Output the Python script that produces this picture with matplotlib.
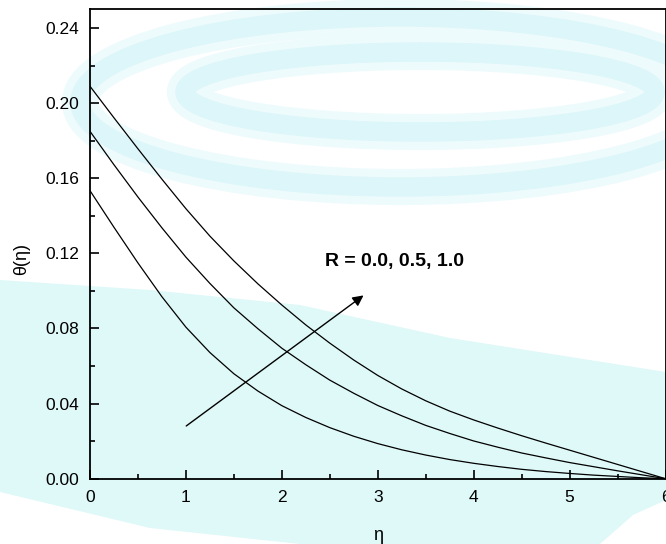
import matplotlib
matplotlib.use("Agg")
import matplotlib.pyplot as plt
from matplotlib.patches import Ellipse, Polygon

plt.rcParams["font.family"] = ["Liberation Sans", "DejaVu Sans"]

# values
eta = [0.0, 0.25, 0.5, 0.75, 1.0, 1.25, 1.5, 1.75, 2.0, 2.25, 2.5, 2.75, 3.0,
       3.25, 3.5, 3.75, 4.0, 4.25, 4.5, 4.75, 5.0, 5.25, 5.5, 5.75, 6.0]
theta_r00 = [0.1534, 0.1339, 0.1149, 0.0969, 0.0807, 0.0672, 0.0559, 0.0467,
             0.0389, 0.0326, 0.0272, 0.0226, 0.0187, 0.0154, 0.0126, 0.0102,
             0.0082, 0.0065, 0.0050, 0.0038, 0.0028, 0.0019, 0.0012, 0.0005, 0.0]
theta_r05 = [0.185, 0.1672, 0.1500, 0.1336, 0.1180, 0.1040, 0.0910, 0.0799,
             0.0695, 0.0607, 0.0525, 0.0455, 0.0390, 0.0335, 0.0284, 0.0241,
             0.0201, 0.0168, 0.0137, 0.0111, 0.0086, 0.0064, 0.0042, 0.0021, 0.0]
theta_r10 = [0.209, 0.1922, 0.1757, 0.1595, 0.1438, 0.1292, 0.1160, 0.1038,
             0.0925, 0.0819, 0.0722, 0.0632, 0.0550, 0.0478, 0.0415, 0.0360,
             0.0313, 0.0270, 0.0229, 0.0190, 0.0152, 0.0114, 0.0076, 0.0038, 0.0]

xticks = [0, 1, 2, 3, 4, 5, 6]
yticks = [0.00, 0.04, 0.08, 0.12, 0.16, 0.20, 0.24]

fig = plt.figure(figsize=(6.66, 5.44), dpi=100)

# pale watermark behind the chart (pixel coordinates)
bg = fig.add_axes([0, 0, 1, 1], zorder=0)
bg.set_xlim(0, 666)
bg.set_ylim(544, 0)
bg.set_axis_off()
bg.add_patch(Polygon([(0, 280), (150, 290), (300, 305), (450, 338), (666, 372),
                      (666, 500), (633, 515), (600, 544), (300, 544),
                      (150, 528), (0, 492)], closed=True, color="#dff8f8", lw=0))
for w, h, cx, cy in [(640, 170, 400, 102), (470, 80, 420, 92)]:
    bg.add_patch(Ellipse((cx, cy), w, h, fill=False, ec="#eefbfc", lw=26))
    bg.add_patch(Ellipse((cx, cy), w, h, fill=False, ec="#dcf6f9", lw=14))

ax = fig.add_axes([90 / 666, 1 - 478.7 / 544, 575.5 / 666, 469.4 / 544], zorder=1)
ax.patch.set_alpha(0)

for th in (theta_r00, theta_r05, theta_r10):
    ax.plot(eta, th, color="k", lw=0.9)

ax.annotate("", xy=(2.875, 0.0985), xytext=(0.98, 0.0272),
            arrowprops=dict(arrowstyle="-|>", color="k", lw=1.0, mutation_scale=16))
ax.text(2.45, 0.1157, "R = 0.0, 0.5, 1.0", fontsize=14, fontweight="bold",
        va="center", ha="left")

ax.set_xlim(0, 6)
ax.set_ylim(0, 0.25)
ax.set_xticks(xticks)
ax.set_xticklabels([str(v) for v in xticks])
ax.set_yticks(yticks)
ax.set_yticklabels([f"{v:.2f}" for v in yticks])
ax.set_xticks([0.5, 1.5, 2.5, 3.5, 4.5, 5.5], minor=True)
ax.set_yticks([0.02, 0.06, 0.10, 0.14, 0.18, 0.22], minor=True)
ax.tick_params(which="both", direction="in", labelsize=12.5, width=1.2)
ax.tick_params(which="major", length=6.5, pad=8)
ax.tick_params(which="minor", length=3.6)
for s in ax.spines.values():
    s.set_linewidth(1.3)

ax.set_xlabel("η", fontsize=13)
ax.set_ylabel("θ(η)", fontsize=13)
ax.xaxis.set_label_coords(0.5, -0.103)
ax.yaxis.set_label_coords(-0.104, 0.468)

fig.savefig("out.png", dpi=100)
